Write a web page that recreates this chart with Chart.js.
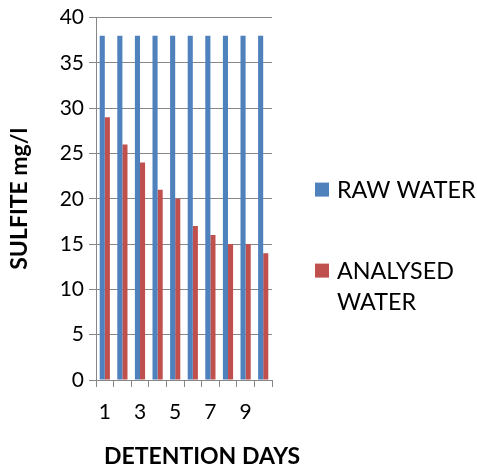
<!DOCTYPE html>
<html><head><meta charset="utf-8">
<script src="https://cdn.jsdelivr.net/npm/chart.js@4"></script>
<style>html,body{margin:0;padding:0;background:#fff}#wrap{width:477px;height:469px}</style>
</head><body><div id="wrap"><canvas id="c" width="477" height="469"></canvas></div>
<script>
const categories = ['1','2','3','4','5','6','7','8','9','10'];
const rawWater = [38,38,38,38,38,38,38,38,38,38];
const analysedWater = [29,26,24,21,20,17,16,15,15,14];
const yTicks = [0,5,10,15,20,25,30,35,40];
const seriesNames = [['RAW WATER'], ['ANALYSED', 'WATER']];
const seriesColors = ['#4F81BD', '#C0504D'];
const yTitle = 'SULFITE mg/l';
const xTitle = 'DETENTION DAYS';

const FONT = 'Lato, "Open Sans", sans-serif';
const gridColor = '#878787';

// Legend and x-axis title drawn beside/below the plot
const sideLegend = {
  id: 'sideLegend',
  afterDraw(chart) {
    const ctx = chart.ctx;
    const area = chart.chartArea;
    const x0 = area.right + 43;
    const centers = [area.top + 172, area.top + 253];
    const lineH = 31;
    ctx.save();
    ctx.font = '23.3px ' + FONT;
    ctx.textBaseline = 'middle';
    ctx.textAlign = 'left';
    chart.data.datasets.forEach((ds, i) => {
      const cy = centers[i];
      ctx.fillStyle = ds.backgroundColor;
      ctx.fillRect(x0, cy - 7, 14, 14);
      ctx.fillStyle = '#000';
      seriesNames[i].forEach((line, j) => ctx.fillText(line, x0 + 22, cy + 1 + j * lineH));
    });
    // x axis title
    ctx.font = 'bold 23px ' + FONT;
    ctx.textAlign = 'center';
    ctx.fillText(xTitle, (area.left + area.right) / 2 + 18, 457);
    ctx.restore();
  }
};

new Chart(document.getElementById('c'), {
  type: 'bar',
  data: {
    labels: categories,
    datasets: [
      { label: seriesNames[0].join(' '), data: rawWater, backgroundColor: seriesColors[0], categoryPercentage: 0.58, barPercentage: 1 },
      { label: seriesNames[1].join(' '), data: analysedWater, backgroundColor: seriesColors[1], categoryPercentage: 0.58, barPercentage: 1 }
    ]
  },
  plugins: [sideLegend],
  options: {
    responsive: false,
    animation: false,
    devicePixelRatio: 1,
    layout: { padding: { left: 0, top: 8, right: 205, bottom: 0 } },
    plugins: {
      tooltip: { enabled: false },
      legend: { display: false }
    },
    scales: {
      x: {
        grid: { display: true, drawOnChartArea: false, drawTicks: true, tickLength: 7, color: gridColor, offset: true },
        border: { display: true, color: gridColor },
        ticks: {
          autoSkip: false, maxRotation: 0, color: '#000', padding: 13,
          font: { family: FONT, size: 21 },
          callback: function (v, i) { return i % 2 === 0 ? this.getLabelForValue(v) : ''; }
        },
        title: { display: false },
        afterFit: (s) => { s.height = 469 - 380; }
      },
      y: {
        min: 0, max: 40,
        afterBuildTicks: (s) => { s.ticks = yTicks.map(v => ({ value: v })); },
        grid: { color: gridColor, tickLength: 7 },
        border: { display: true, color: gridColor },
        ticks: { color: '#000', padding: 5, font: { family: FONT, size: 21 } },
        title: { display: true, text: yTitle, color: '#000', font: { family: FONT, size: 23, weight: 'bold' }, padding: { top: 6 } },
        afterFit: (s) => { s.width = 96; }
      }
    }
  }
});
</script>
</body></html>
